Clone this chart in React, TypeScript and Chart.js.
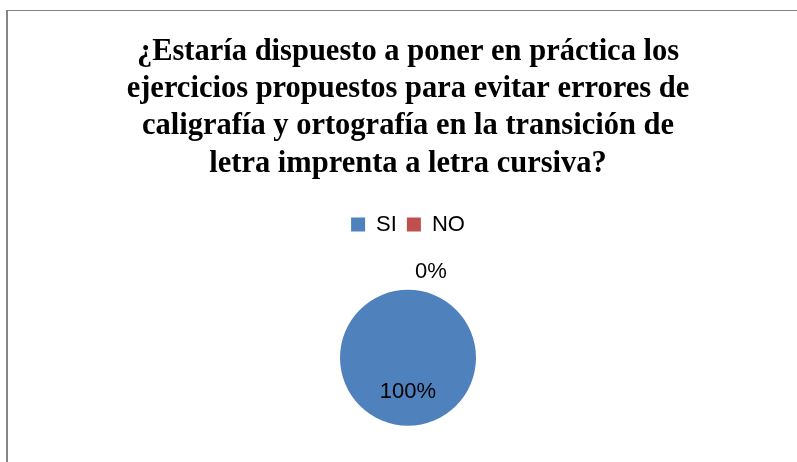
import React, { useEffect, useRef } from "react";
import { Chart, registerables } from "chart.js";

Chart.register(...registerables);

const titleLines = [
  "¿Estaría dispuesto a poner en práctica los",
  "ejercicios propuestos para evitar errores de",
  "caligrafía y ortografía en la transición de",
  "letra imprenta a letra cursiva?",
];
const categories = ["SI", "NO"];
const values = [100, 0];
const percentLabels = ["100%", "0%"];
const colors = ["#4F81BD", "#C0504D"];

const labelPlugin = {
  id: "pieLabels",
  afterDatasetsDraw(chart: any) {
    const ctx = chart.ctx;
    const meta = chart.getDatasetMeta(0);
    ctx.save();
    ctx.font = "22px 'Liberation Sans', Arial, sans-serif";
    ctx.fillStyle = "#000";
    ctx.textBaseline = "middle";
    meta.data.forEach((arc: any, i: number) => {
      const p = arc.getProps(["x", "y", "startAngle", "endAngle", "outerRadius"], true);
      const mid = (p.startAngle + p.endAngle) / 2;
      if (values[i] === 0) {
        const d = p.outerRadius + 18;
        ctx.textAlign = "left";
        ctx.fillText(percentLabels[i], p.x + Math.cos(mid) * d + 7, p.y + Math.sin(mid) * d);
      } else {
        const d = p.outerRadius * 0.5;
        ctx.textAlign = "center";
        ctx.fillText(percentLabels[i], p.x + Math.cos(mid) * d, p.y + Math.sin(mid) * d);
      }
    });
    ctx.restore();
  },
};

export default function App() {
  const ref = useRef<HTMLCanvasElement>(null);
  useEffect(() => {
    if (!ref.current) return;
    const chart = new Chart(ref.current, {
      type: "pie",
      data: {
        labels: categories,
        datasets: [
          {
            data: values,
            backgroundColor: colors,
            borderWidth: 0,
            radius: 68,
          },
        ],
      },
      options: {
        animation: false,
        responsive: false,
        maintainAspectRatio: false,
        layout: { padding: { bottom: 21 } },
        plugins: {
          tooltip: { enabled: false },
          title: {
            display: true,
            text: titleLines,
            color: "#000",
            font: { family: "'Liberation Serif', 'Times New Roman', serif", size: 30.5, weight: "bold", lineHeight: 1.225 },
            padding: { top: 22, bottom: 21 },
          },
          legend: {
            display: true,
            position: "top",
            labels: {
              color: "#000",
              boxWidth: 14,
              boxHeight: 14,
              padding: 10,
              font: { family: "'Liberation Sans', Arial, sans-serif", size: 22 },
            },
          },
        },
      },
      plugins: [labelPlugin],
    });
    return () => chart.destroy();
  }, []);
  return (
    <div style={{ position: "fixed", left: 0, top: 0, width: 797, height: 462, overflow: "hidden", background: "#fff" }}>
      <div
        style={{
          position: "absolute",
          left: 6,
          top: 10,
          width: 820,
          height: 480,
          borderLeft: "2px solid #868686",
          borderTop: "1px solid #868686",
        }}
      />
      <canvas ref={ref} width={800} height={480} style={{ position: "absolute", left: 8, top: 11, width: 800, height: 480 }} />
    </div>
  );
}
